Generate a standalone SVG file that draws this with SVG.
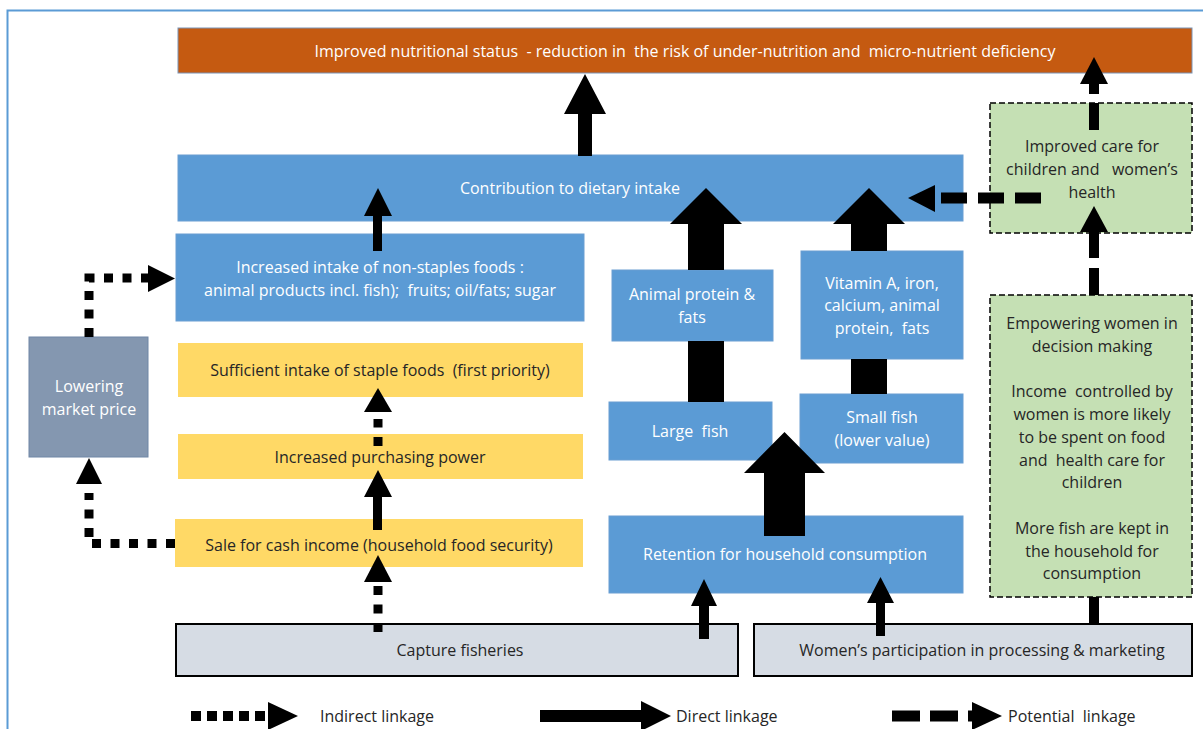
<svg xmlns="http://www.w3.org/2000/svg" width="1203" height="729" viewBox="0 0 1203 729">
<style>
.t{font-family:"Open Sans","Noto Sans","Liberation Sans",Arial,sans-serif;font-size:16px;text-anchor:middle;dominant-baseline:central;white-space:pre}
.w{fill:#ffffff}
.d{fill:#262626}
.blue{fill:#5B9BD5;stroke:#6A9ED2;stroke-width:1}
.yel{fill:#FFD966}
.grey{fill:#D6DCE4;stroke:#000;stroke-width:2}
.green{fill:#C5E0B4;stroke:#000;stroke-width:1.5;stroke-dasharray:6 3}
.ar{fill:#000}
.dot{fill:none;stroke:#000;stroke-width:9;stroke-dasharray:9 9.5}
.dash{fill:none;stroke:#000;stroke-width:11;stroke-dasharray:26 11}
</style>
<rect x="7.5" y="10.5" width="1210" height="730" fill="#fff" stroke="#5B9BD5" stroke-width="2"/>

<g id="n-outcome">
<rect x="178" y="28" width="1014" height="45" fill="#C55A11" stroke="#7A93B5" stroke-width="1"/>
<text class="t w" x="685" y="51" xml:space="preserve">Improved nutritional status  - reduction in  the risk of under-nutrition and  micro-nutrient deficiency</text>
</g>
<g id="n-contribution">
<rect class="blue" x="178" y="155" width="785" height="66"/>
<text class="t w" x="570" y="188">Contribution to dietary intake</text>
</g>
<g id="n-nonstaples">
<rect class="blue" x="176" y="234" width="408" height="87"/>
<text class="t w" x="380" y="267">Increased intake of non-staples foods :</text>
<text class="t w" x="380" y="290" xml:space="preserve">animal products incl. fish);  fruits; oil/fats; sugar</text>
</g>
<g id="n-lowering">
<rect x="29" y="337" width="119" height="120" fill="#8497B0" stroke="#6F86A6" stroke-width="1"/>
<text class="t w" x="89" y="386">Lowering</text>
<text class="t w" x="89" y="409">market price</text>
</g>
<g id="n-staple">
<rect class="yel" x="178" y="343" width="405" height="54"/>
<text class="t d" x="380" y="370" xml:space="preserve">Sufficient intake of staple foods  (first priority)</text>
</g>
<g id="n-purchasing">
<rect class="yel" x="178" y="434" width="405" height="45"/>
<text class="t d" x="380" y="457">Increased purchasing power</text>
</g>
<g id="n-sale">
<rect class="yel" x="175" y="519" width="408" height="48"/>
<text class="t d" x="379" y="545">Sale for cash income (household food security)</text>
</g>
<g id="n-animal">
<rect class="blue" x="612" y="270" width="161" height="71"/>
<text class="t w" x="692" y="294">Animal protein &amp;</text>
<text class="t w" x="692" y="317">fats</text>
</g>
<g id="n-vitamin">
<rect class="blue" x="801" y="251" width="162" height="108"/>
<text class="t w" x="882" y="283">Vitamin A, iron,</text>
<text class="t w" x="882" y="305">calcium, animal</text>
<text class="t w" x="882" y="328" xml:space="preserve">protein,  fats</text>
</g>
<g id="n-largefish">
<rect class="blue" x="609" y="402" width="163" height="58"/>
<text class="t w" x="690" y="431" xml:space="preserve">Large  fish</text>
</g>
<g id="n-smallfish">
<rect class="blue" x="800" y="394" width="163" height="69"/>
<text class="t w" x="882" y="417">Small fish</text>
<text class="t w" x="882" y="440">(lower value)</text>
</g>
<g id="n-retention">
<rect class="blue" x="609" y="516" width="354" height="77"/>
<text class="t w" x="785" y="554">Retention for household consumption</text>
</g>
<g id="n-capture">
<rect class="grey" x="176" y="624" width="562" height="52"/>
<text class="t d" x="460" y="650">Capture fisheries</text>
</g>
<g id="n-women">
<rect class="grey" x="754" y="624" width="438" height="52"/>
<text class="t d" x="982" y="650">Women’s participation in processing &amp; marketing</text>
</g>
<g id="n-care">
<rect class="green" x="990" y="103" width="202" height="130"/>
<text class="t d" x="1092" y="146">Improved care for</text>
<text class="t d" x="1092" y="169" xml:space="preserve">children and   women’s</text>
<text class="t d" x="1092" y="192">health</text>
</g>
<g id="n-empower">
<rect class="green" x="990" y="295" width="202" height="302"/>
<text class="t d" x="1092" y="323">Empowering women in</text>
<text class="t d" x="1092" y="346">decision making</text>
<text class="t d" x="1092" y="391" xml:space="preserve">Income  controlled by</text>
<text class="t d" x="1092" y="414">women is more likely</text>
<text class="t d" x="1092" y="437">to be spent on food</text>
<text class="t d" x="1092" y="460" xml:space="preserve">and  health care for</text>
<text class="t d" x="1092" y="482">children</text>
<text class="t d" x="1092" y="528">More fish are kept in</text>
<text class="t d" x="1092" y="551">the household for</text>
<text class="t d" x="1092" y="573">consumption</text>
</g>

<g id="connectors">
<!-- solid (direct) -->
<polygon class="ar" points="578,156 578,114 564,114 585,74 606,114 592,114 592,156"/>
<polygon class="ar" points="373,251 373,216 364,216 378,188 392,216 382,216 382,251"/>
<polygon class="ar" points="688,270 688,224 670,224 706,188 742,224 724,224 724,270"/>
<rect class="ar" x="688" y="341" width="36" height="61"/>
<polygon class="ar" points="851,251 851,224 833,224 869,188 905,224 887,224 887,251"/>
<rect class="ar" x="851" y="359" width="36" height="35"/>
<polygon class="ar" points="764,536 764,473 744,473 784.5,432 825,473 805,473 805,536"/>
<polygon class="ar" points="699,639 699,606 691,606 704,579 717,606 709,606 709,639"/>
<polygon class="ar" points="876,636 876,603 867,603 880.5,577 894,603 885,603 885,636"/>
<polygon class="ar" points="373,530 373,497 364,497 378,470 392,497 382,497 382,530"/>
<rect class="ar" x="1089" y="597" width="10" height="27"/>
<!-- dotted (indirect) -->
<path class="dot" d="M378 632 V586"/>
<polygon class="ar" points="364,582 378,555 392,582"/>
<path class="dot" d="M378 446 V419"/>
<polygon class="ar" points="364,412 378,388 392,412"/>
<path class="dot" d="M175 543.5 H89 V493"/>
<polygon class="ar" points="76,484 89,458 102,484"/>
<path class="dot" d="M89 337 V278 H148"/>
<polygon class="ar" points="148,265 175,278.5 148,292"/>
<!-- dashed (potential) -->
<path class="dash" d="M1041 198 H941"/>
<polygon class="ar" points="935,185 908,198 935,212"/>
<rect class="ar" x="1089" y="103" width="10" height="27"/>
<rect class="ar" x="1089" y="84" width="10" height="10"/>
<polygon class="ar" points="1080,84 1094,57 1108,84"/>
<rect class="ar" x="1089" y="268" width="10" height="27"/>
<rect class="ar" x="1089" y="232" width="10" height="26"/>
<polygon class="ar" points="1080,232 1094,206 1108,232"/>
</g>

<g id="legend">
<path d="M191 716 H272" fill="none" stroke="#000" stroke-width="10" stroke-dasharray="10 6"/>
<polygon class="ar" points="268,702 298,716 268,730"/>
<text class="t d" x="320" y="716" style="text-anchor:start">Indirect linkage</text>
<rect class="ar" x="540" y="710" width="103" height="12"/>
<polygon class="ar" points="641,701 671,716 641,731"/>
<text class="t d" x="676" y="716" style="text-anchor:start">Direct linkage</text>
<path d="M892 716 H972" fill="none" stroke="#000" stroke-width="11" stroke-dasharray="28 10"/>
<polygon class="ar" points="972,702 1002,716 972,730"/>
<text class="t d" x="1008" y="716" style="text-anchor:start" xml:space="preserve">Potential  linkage</text>
</g>
</svg>
